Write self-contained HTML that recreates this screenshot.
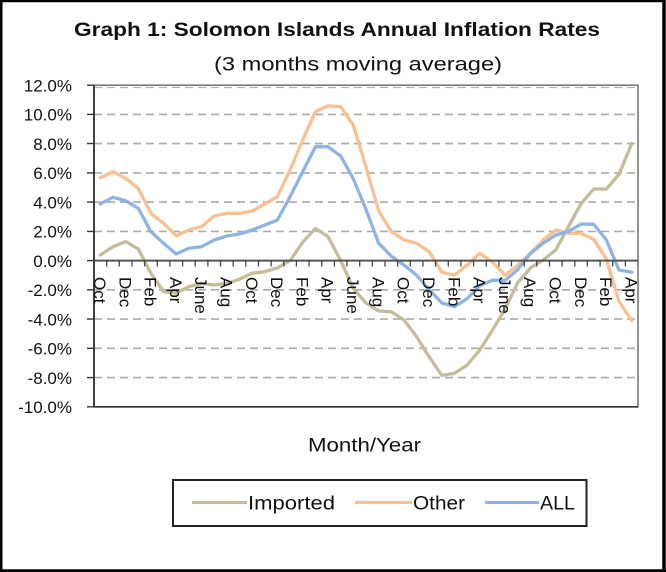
<!DOCTYPE html>
<html>
<head>
<meta charset="utf-8">
<style>
html,body{margin:0;padding:0;background:#fff;}
body{width:666px;height:572px;overflow:hidden;}
svg{display:block;}
text{font-family:"Liberation Sans", sans-serif;fill:#111;}
</style>
</head>
<body>
<svg width="666" height="572" viewBox="0 0 666 572" xmlns="http://www.w3.org/2000/svg">
<rect x="0" y="0" width="666" height="572" fill="#fff"/>
<rect x="1.25" y="1" width="662.5" height="569.5" fill="none" stroke="#000" stroke-width="2.5"/>
<line x1="664" y1="0" x2="664" y2="572" stroke="#000" stroke-width="3.5"/>
<line x1="0" y1="571" x2="666" y2="571" stroke="#000" stroke-width="2.5"/>
<text x="74" y="36" font-size="19" font-weight="bold" textLength="526" lengthAdjust="spacingAndGlyphs">Graph 1:  Solomon Islands Annual Inflation Rates</text>
<text x="214" y="70.5" font-size="19.5" textLength="288" lengthAdjust="spacingAndGlyphs">(3 months moving average)</text>
<g stroke="#ababab" stroke-width="1.6" stroke-dasharray="8 5">
<line x1="94" y1="114.4" x2="638" y2="114.4"/>
<line x1="94" y1="143.6" x2="638" y2="143.6"/>
<line x1="94" y1="172.9" x2="638" y2="172.9"/>
<line x1="94" y1="202.1" x2="638" y2="202.1"/>
<line x1="94" y1="231.4" x2="638" y2="231.4"/>
<line x1="94" y1="289.8" x2="638" y2="289.8"/>
<line x1="94" y1="319.1" x2="638" y2="319.1"/>
<line x1="94" y1="348.3" x2="638" y2="348.3"/>
<line x1="94" y1="377.6" x2="638" y2="377.6"/>
</g>
<rect x="94" y="85.2" width="544" height="321.6" fill="none" stroke="#7a7a7a" stroke-width="1.6"/>
<line x1="94" y1="87.5" x2="638" y2="87.5" stroke="#b0b0b0" stroke-width="1.2" stroke-dasharray="8 5"/>
<line x1="94" y1="406.8" x2="638" y2="406.8" stroke="#333" stroke-width="1.6"/>
<line x1="94" y1="85.2" x2="94" y2="406.8" stroke="#333" stroke-width="1.8"/>
<path stroke="#333" stroke-width="1.4" d="M87 85.2H94M87 114.4H94M87 143.6H94M87 172.9H94M87 202.1H94M87 231.4H94M87 260.6H94M87 289.8H94M87 319.1H94M87 348.3H94M87 377.6H94M87 406.8H94"/>
<g font-size="17" text-anchor="end">
<text x="72" y="91.4">12.0%</text>
<text x="72" y="120.6">10.0%</text>
<text x="72" y="149.8">8.0%</text>
<text x="72" y="179.1">6.0%</text>
<text x="72" y="208.3">4.0%</text>
<text x="72" y="237.6">2.0%</text>
<text x="72" y="266.8">0.0%</text>
<text x="72" y="296.0">-2.0%</text>
<text x="72" y="325.3">-4.0%</text>
<text x="72" y="354.5">-6.0%</text>
<text x="72" y="383.8">-8.0%</text>
<text x="72" y="413.0">-10.0%</text>
</g>
<g fill="none" stroke-width="3.3" stroke-linejoin="round" stroke-linecap="round">
<polyline stroke="#C4BD97" points="100.3,255.0 113.0,246.7 125.6,241.6 138.3,248.9 150.9,273.3 163.6,291.6 176.2,293.3 188.9,286.6 201.5,283.4 214.2,285.0 226.8,283.4 239.5,279.3 252.1,273.3 264.8,271.7 277.4,267.9 290.1,260.6 302.7,242.3 315.4,228.4 328.0,236.6 340.7,260.6 353.3,288.4 366.0,303.0 378.7,311.0 391.3,311.8 404.0,320.0 416.6,336.6 429.3,357.1 441.9,375.4 454.6,373.2 467.2,365.0 479.9,349.8 492.5,330.0 505.2,308.8 517.8,282.5 530.5,267.9 543.1,260.0 555.8,249.9 568.4,226.7 581.1,203.6 593.7,189.0 606.4,189.0 619.0,174.3 631.7,143.6"/>
<polyline stroke="#FAC08F" points="100.3,177.7 113.0,171.7 125.6,178.3 138.3,188.4 150.9,213.4 163.6,223.3 176.2,235.7 188.9,229.9 201.5,226.7 214.2,216.0 226.8,213.4 239.5,213.4 252.1,211.0 264.8,204.0 277.4,196.7 290.1,170.0 302.7,140.0 315.4,111.6 328.0,105.9 340.7,106.7 353.3,125.1 366.0,167.0 378.7,210.9 391.3,231.4 404.0,240.0 416.6,243.3 429.3,251.7 441.9,272.3 454.6,275.2 467.2,265.0 479.9,253.3 492.5,262.1 505.2,275.2 517.8,265.0 530.5,253.3 543.1,240.1 555.8,229.9 568.4,233.3 581.1,233.3 593.7,239.4 606.4,259.1 619.0,301.5 631.7,320.5"/>
<polyline stroke="#8DB4E2" points="100.3,204.0 113.0,197.3 125.6,200.7 138.3,208.4 150.9,231.7 163.6,243.3 176.2,254.0 188.9,248.3 201.5,246.7 214.2,240.0 226.8,236.0 239.5,234.0 252.1,230.0 264.8,225.1 277.4,220.0 290.1,196.6 302.7,171.7 315.4,146.7 328.0,146.7 340.7,156.1 353.3,178.7 366.0,209.4 378.7,243.3 391.3,256.2 404.0,265.0 416.6,275.2 429.3,289.8 441.9,303.0 454.6,306.7 467.2,298.6 479.9,285.5 492.5,280.3 505.2,280.3 517.8,269.4 530.5,253.3 543.1,243.3 555.8,235.0 568.4,231.7 581.1,224.0 593.7,224.3 606.4,240.0 619.0,270.0 631.7,272.3"/>
</g>
<line x1="94" y1="260.6" x2="638" y2="260.6" stroke="#555" stroke-width="2"/>
<path stroke="#444" stroke-width="1.3" d="M106.7 260.6V266.5M119.3 260.6V266.5M132.0 260.6V266.5M144.6 260.6V266.5M157.3 260.6V266.5M169.9 260.6V266.5M182.6 260.6V266.5M195.2 260.6V266.5M207.9 260.6V266.5M220.5 260.6V266.5M233.2 260.6V266.5M245.8 260.6V266.5M258.5 260.6V266.5M271.1 260.6V266.5M283.8 260.6V266.5M296.4 260.6V266.5M309.1 260.6V266.5M321.7 260.6V266.5M334.4 260.6V266.5M347.0 260.6V266.5M359.7 260.6V266.5M372.3 260.6V266.5M385.0 260.6V266.5M397.6 260.6V266.5M410.3 260.6V266.5M422.9 260.6V266.5M435.6 260.6V266.5M448.3 260.6V266.5M460.9 260.6V266.5M473.6 260.6V266.5M486.2 260.6V266.5M498.9 260.6V266.5M511.5 260.6V266.5M524.2 260.6V266.5M536.8 260.6V266.5M549.5 260.6V266.5M562.1 260.6V266.5M574.8 260.6V266.5M587.4 260.6V266.5M600.1 260.6V266.5M612.7 260.6V266.5M625.4 260.6V266.5"/>
<g font-size="17">
<text transform="translate(94.0,277) rotate(90)">Oct</text>
<text transform="translate(119.3,277) rotate(90)">Dec</text>
<text transform="translate(144.6,277) rotate(90)">Feb</text>
<text transform="translate(169.9,277) rotate(90)">Apr</text>
<text transform="translate(195.2,277) rotate(90)">June</text>
<text transform="translate(220.5,277) rotate(90)">Aug</text>
<text transform="translate(245.8,277) rotate(90)">Oct</text>
<text transform="translate(271.1,277) rotate(90)">Dec</text>
<text transform="translate(296.4,277) rotate(90)">Feb</text>
<text transform="translate(321.7,277) rotate(90)">Apr</text>
<text transform="translate(347.0,277) rotate(90)">June</text>
<text transform="translate(372.4,277) rotate(90)">Aug</text>
<text transform="translate(397.7,277) rotate(90)">Oct</text>
<text transform="translate(423.0,277) rotate(90)">Dec</text>
<text transform="translate(448.3,277) rotate(90)">Feb</text>
<text transform="translate(473.6,277) rotate(90)">Apr</text>
<text transform="translate(498.9,277) rotate(90)">June</text>
<text transform="translate(524.2,277) rotate(90)">Aug</text>
<text transform="translate(549.5,277) rotate(90)">Oct</text>
<text transform="translate(574.8,277) rotate(90)">Dec</text>
<text transform="translate(600.1,277) rotate(90)">Feb</text>
<text transform="translate(625.4,277) rotate(90)">Apr</text>
</g>
<text x="308" y="451.5" font-size="19" textLength="113" lengthAdjust="spacingAndGlyphs">Month/Year</text>
<rect x="173" y="480" width="413.5" height="46" fill="#fff" stroke="#222" stroke-width="2"/>
<line x1="192" y1="502.5" x2="247" y2="502.5" stroke="#C4BD97" stroke-width="3"/>
<line x1="355" y1="502.5" x2="412" y2="502.5" stroke="#FAC08F" stroke-width="3"/>
<line x1="485" y1="502.5" x2="539" y2="502.5" stroke="#8DB4E2" stroke-width="3"/>
<g font-size="19.5">
<text x="248" y="509.5" textLength="87" lengthAdjust="spacingAndGlyphs">Imported</text>
<text x="413" y="509.5" textLength="52" lengthAdjust="spacingAndGlyphs">Other</text>
<text x="540" y="509.5" textLength="35" lengthAdjust="spacingAndGlyphs">ALL</text>
</g>
</svg>
</body>
</html>
